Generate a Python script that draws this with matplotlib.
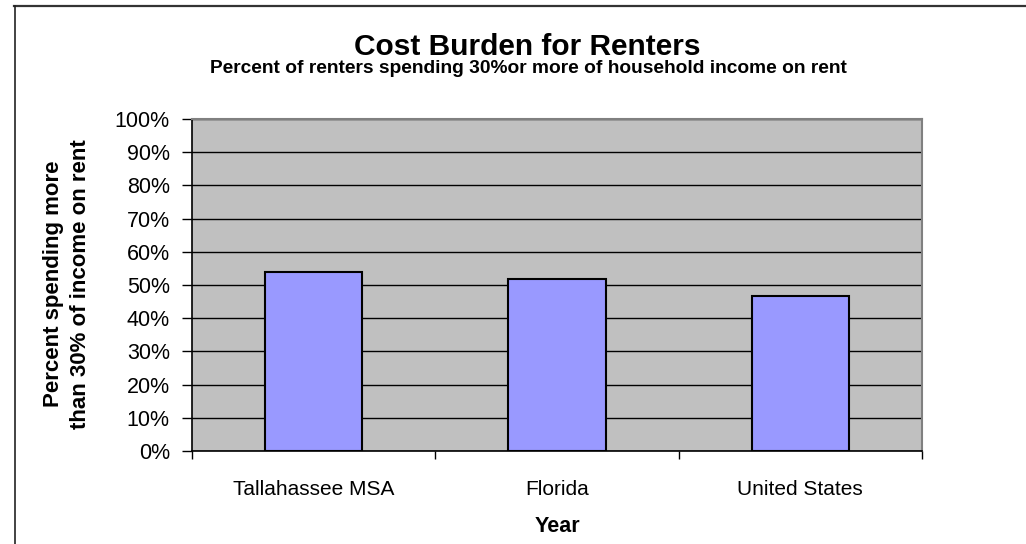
import matplotlib
matplotlib.use("Agg")
import matplotlib.pyplot as plt
from matplotlib.lines import Line2D
from matplotlib.ticker import FuncFormatter

categories = ["Tallahassee MSA", "Florida", "United States"]
values = [53.8, 51.9, 46.8]
yticks = list(range(0, 101, 10))

plt.rcParams['font.family'] = ['Liberation Sans', 'DejaVu Sans']

W, H = 1026, 544
fig = plt.figure(figsize=(W / 100, H / 100), dpi=100)
fig.patch.set_facecolor("white")

# outer chart border (top and left visible)
fig.add_artist(Line2D([14 / W, 1.0], [1 - 5.5 / H, 1 - 5.5 / H], transform=fig.transFigure,
                      color="#333333", linewidth=1.6))
fig.add_artist(Line2D([14.5 / W, 14.5 / W], [0.0, 1 - 5.5 / H], transform=fig.transFigure,
                      color="#222222", linewidth=1.2))

ax = fig.add_axes([192 / W, (H - 451) / H, 730 / W, 332 / H])
ax.set_facecolor("#C0C0C0")

x = [i + 0.5 for i in range(len(categories))]
ax.bar(x, values, width=0.40, color="#9999FF", edgecolor="black", linewidth=1.5, zorder=3)

ax.set_xlim(0, len(categories))
ax.set_ylim(0, 100)
ax.set_yticks(yticks)
ax.yaxis.set_major_formatter(FuncFormatter(lambda v, p: f"{int(v)}%"))
ax.yaxis.grid(True, color="black", linewidth=1.0, zorder=1)
ax.set_axisbelow(True)

ax.set_xticks(range(len(categories) + 1))
ax.set_xticklabels([])
ax.set_xticks(x, minor=True)
ax.set_xticklabels(categories, minor=True, fontsize=15)
ax.tick_params(axis="x", which="minor", length=0, pad=21)
ax.tick_params(axis="x", which="major", direction="out", length=6, width=1, color="black")
ax.tick_params(axis="y", direction="out", length=7, width=1, labelsize=15.5, pad=9)

for s in ["left", "bottom"]:
    ax.spines[s].set_color("black")
    ax.spines[s].set_linewidth(1.2)
for s in ["top", "right"]:
    ax.spines[s].set_color("#808080")
    ax.spines[s].set_linewidth(1.5)

fig.text(557 / W, 1 - 526 / H, "Year", ha="center", va="center",
         fontsize=15.5, fontweight="bold")
fig.text(67 / W, 1 - 284 / H, "Percent spending more\nthan 30% of income on rent",
         rotation=90, ha="center", va="center", fontsize=16, fontweight="bold",
         linespacing=1.4)

fig.text(527 / W, 1 - 55 / H, "Cost Burden for Renters", ha="center", va="baseline",
         fontsize=21.5, fontweight="bold")
fig.text(528 / W, 1 - 73 / H, "Percent of renters spending 30%or more of household income on rent",
         ha="center", va="baseline", fontsize=13.8, fontweight="bold")

fig.savefig("out.png", dpi=100)
